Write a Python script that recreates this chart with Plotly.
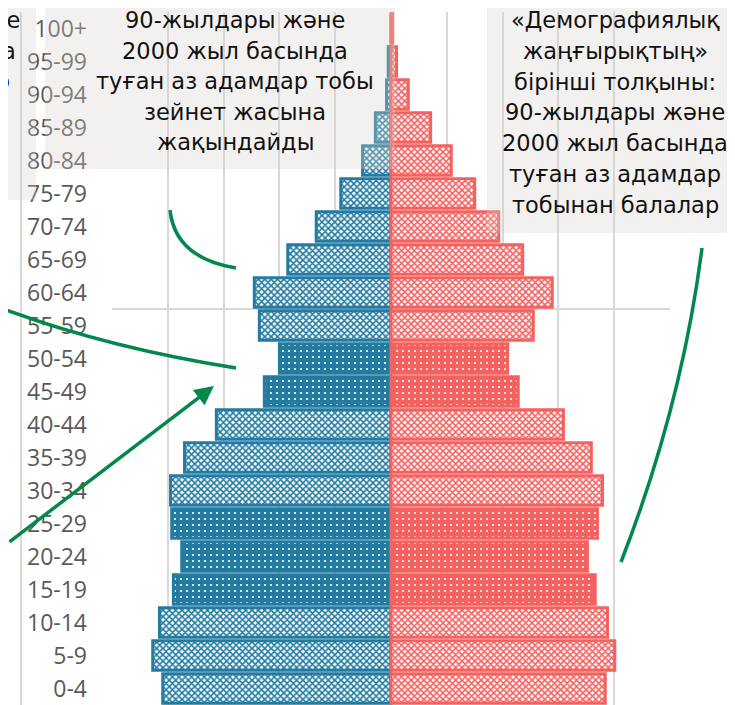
import plotly.graph_objects as go

# ---------------- data ----------------
age_groups = ["0-4", "5-9", "10-14", "15-19", "20-24", "25-29", "30-34", "35-39",
              "40-44", "45-49", "50-54", "55-59", "60-64", "65-69", "70-74",
              "75-79", "80-84", "85-89", "90-94", "95-99", "100+"]
male = [4.09, 4.27, 4.15, 3.90, 3.75, 3.93, 3.95, 3.70, 3.13, 2.27, 2.00,
        2.36, 2.45, 1.85, 1.34, 0.90, 0.51, 0.28, 0.08, 0.05, 0.0]
female = [3.84, 4.01, 3.88, 3.66, 3.52, 3.70, 3.79, 3.59, 3.09, 2.28, 2.09,
          2.55, 2.89, 2.36, 1.93, 1.50, 1.08, 0.71, 0.31, 0.10, 0.03]
# cohorts drawn with the dense (dotted) fill
dotted_groups = ["15-19", "20-24", "25-29", "45-49", "50-54"]

box_mid_lines = ["90-жылдары және", "2000 жыл басында", "туған аз адамдар тобы",
                 "зейнет жасына", "жақындайды"]
box_right_lines = ["«Демографиялық", "жаңғырықтың»", "бірінші толқыны:",
                   "90-жылдары және", "2000 жыл басында", "туған аз адамдар",
                   "тобынан балалар"]
box_left_lines = ["90-жылдары және", "2000 жыл басында", "туған аз адамдар"]

# ---------------- style ----------------
OFF = 8                      # page body margin
WIN_W, WIN_H = 735, 705
W, H = WIN_W - OFF, WIN_H - OFF
# plot area in window pixels: x 112..670, y 12..705
PX0, PX1, PY0, PY1 = 112, 670, 12, 705
ML, MR, MT, MB = PX0 - OFF, W - (PX1 - OFF), PY0 - OFF, H - (PY1 - OFF)
BLUE = "#237ba1"
RED = "#f4615f"
GREEN = "#03884b"
GRID = "#d9d9d9"
BOXFILL = "rgba(214,208,203,0.30)"


def px(x):
    return (x - PX0) / (PX1 - PX0)


def py(y):
    return (PY1 - y) / (PY1 - PY0)


def pattern(color):
    dotted = [a in dotted_groups for a in age_groups]
    return dict(
        shape=["." if d else "x" for d in dotted],
        fgcolor=["white" if d else color for d in dotted],
        bgcolor=[color if d else "white" for d in dotted],
        size=[6 if d else 4.5 for d in dotted],
        solidity=[0.11 if d else 0.58 for d in dotted],
        fillmode="replace",
    )


fig = go.Figure()
fig.add_trace(go.Bar(
    y=age_groups, x=[-v for v in male], orientation="h", name="Ерлер",
    marker=dict(color=BLUE, line=dict(color=BLUE, width=3), pattern=pattern(BLUE)),
))
fig.add_trace(go.Bar(
    y=age_groups, x=female, orientation="h", name="Әйелдер",
    marker=dict(color=RED, line=dict(color=RED, width=3), pattern=pattern(RED)),
))

shapes = [
    dict(type="line", xref="paper", yref="paper", x0=px(21), x1=px(21), y0=0, y1=1,
         line=dict(color=GRID, width=2), layer="below"),
    dict(type="line", xref="paper", yref="y", x0=0, x1=1, y0=11.5, y1=11.5,
         line=dict(color=GRID, width=2), layer="below"),
    dict(type="rect", xref="paper", yref="paper", x0=px(-10), x1=px(36), y0=py(200), y1=py(-10),
         fillcolor=BOXFILL, line=dict(width=0), layer="above"),
    dict(type="rect", xref="paper", yref="paper", x0=px(45), x1=px(395), y0=py(169), y1=py(-10),
         fillcolor=BOXFILL, line=dict(width=0), layer="above"),
    dict(type="rect", xref="paper", yref="paper", x0=px(487), x1=px(745), y0=py(233), y1=py(-10),
         fillcolor=BOXFILL, line=dict(width=0), layer="above"),
]


def curve(p0, c, p1):
    return (f"M {px(p0[0])},{py(p0[1])} Q {px(c[0])},{py(c[1])} "
            f"{px(p1[0])},{py(p1[1])}")


for p0, c, p1 in [((170, 210), (175, 258), (236, 268)),
                  ((-20, 300), (95, 346), (236, 368)),
                  ((702, 248), (682, 405), (621, 562))]:
    shapes.append(dict(type="path", xref="paper", yref="paper", path=curve(p0, c, p1),
                       line=dict(color=GREEN, width=3.5), layer="above"))

annotations = []
TFONT = dict(family="DejaVu Sans", size=22.5, color="#111111")
for i, t in enumerate(box_mid_lines):
    annotations.append(dict(text=t, xref="paper", yref="paper", x=px(235), y=py(20 + 30.6 * i),
                            xanchor="center", yanchor="middle", showarrow=False, font=TFONT))
for i, t in enumerate(box_right_lines):
    annotations.append(dict(text=t, xref="paper", yref="paper", x=px(615), y=py(20 + 30.8 * i),
                            xanchor="center", yanchor="middle", showarrow=False, font=TFONT))
for i, (t, xr) in enumerate(zip(box_left_lines, [22, 18, 12])):
    annotations.append(dict(text=t, xref="paper", yref="paper", x=px(xr), y=py(20 + 30.6 * i),
                            xanchor="right", yanchor="middle", showarrow=False, font=TFONT))
annotations.append(dict(text="", xref="paper", yref="paper", x=px(214), y=py(386),
                        ax=-260, ay=157, showarrow=True, arrowhead=2, arrowsize=1.1,
                        arrowwidth=3.5, arrowcolor=GREEN, standoff=0))

fig.update_layout(
    width=W, height=H,
    margin=dict(l=ML, r=MR, t=MT, b=MB, autoexpand=False),
    paper_bgcolor="white", plot_bgcolor="white",
    barmode="overlay", bargap=0.1,
    showlegend=False,
    shapes=shapes, annotations=annotations,
    xaxis=dict(range=[-5, 5], dtick=1, showticklabels=False, showgrid=True,
               gridcolor=GRID, gridwidth=2, zeroline=False, fixedrange=True),
    yaxis=dict(type="category", categoryorder="array", categoryarray=age_groups,
               range=[-0.5, 20.5], showgrid=False, zeroline=False, ticks="",
               ticklabelstandoff=24, automargin=False,
               tickfont=dict(family="Open Sans", size=23, color="#595959")),
)

fig.write_html("out.html")
